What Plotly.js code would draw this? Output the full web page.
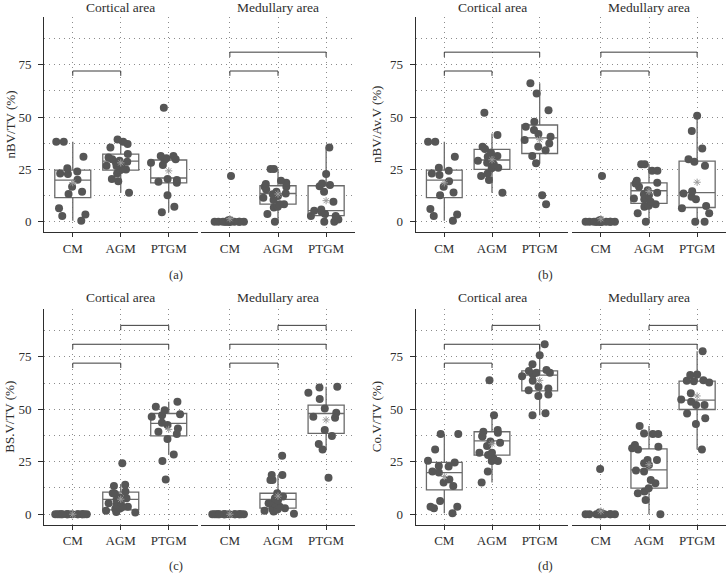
<!DOCTYPE html>
<html>
<head>
<meta charset="utf-8">
<script src="https://cdn.plot.ly/plotly-3.0.1.min.js"></script>
<style>
  body { margin: 0; background: #fff; }
  #chart { width: 726px; height: 585px; }
</style>
</head>
<body>
<div id="chart"></div>
<script>
// groups and facets
const groups = ['CM', 'AGM', 'PTGM'];
const areas = ['Cortical area', 'Medullary area'];
const panelLabels = ['(a)', '(b)', '(c)', '(d)'];
const yTitles = ['nBV/TV (%)', 'nBV/Av.V (%)', 'BS.V/TV (%)', 'Co.V/TV (%)'];
const yTicks = [0, 25, 50, 75];

// significance brackets: pairs of groups and their heights
const comparisons = [[1, 2], [1, 3], [2, 3]];
const bracketHeights = [72, 81, 90];

// (a) nBV/TV
const aCortPts = [
  [38.2, 38.2, 31, 25.5, 23, 24, 22.8, 20, 16.7, 14.3, 13.2, 6.4, 3.5, 2.7, 0.5],
  [39.3, 38.2, 37.1, 35.5, 32.3, 30.7, 29.8, 28.7, 28.2, 26.8, 26.6, 29.1, 25.5, 24.7, 23.1, 25, 20.4, 19.4, 13.9, 27.9],
  [54.5, 31.4, 31.4, 30.3, 29.8, 29.5, 28.2, 27.1, 18.6, 19.1, 19.9, 20.4, 12.7, 7.2, 4.5]
];
const aMedPts = [
  [21.8, 0, 0, 0, 0, 0, 0, 0, 0, 0, 0, 0, 0, 0.3, 0.6, 0.8],
  [25.2, 25.2, 19.6, 18.6, 18, 16.7, 16.7, 15.4, 14.3, 13.5, 13.1, 12.3, 11.5, 10.4, 8.4, 8.4, 6.8, 7.2, 3.7, 0],
  [35.5, 22.8, 17.5, 18.3, 17, 14.3, 9.6, 5.3, 4.8, 5.9, 3.7, 2.7, 2.7, 1.1, 0, 0]
];
// box stats per group: [lower whisker, q1, median, q3, upper whisker]
const aCortBox = [[0.5, 11.5, 19.9, 24.7, 38.2], [13.9, 24.7, 29, 32.3, 39.3], [4.5, 18.6, 20.9, 29.5, 31.4]];
const aMedBox = [[0, 0, 0, 0, 0], [0, 8.4, 13.5, 17.2, 25.2], [0, 2.9, 5.3, 17.2, 35.5]];

// (b) nBV/Av.V
const bCortPts = [
  [38.2, 38.2, 31, 25.8, 24.4, 23.1, 22.3, 19.4, 16.7, 14, 12.7, 6.1, 3.5, 2.7, 0.5],
  [52.1, 41.4, 35.8, 34.7, 33, 31, 31.4, 29.5, 29.1, 28.2, 27.4, 25.8, 25.5, 23.1, 19.9, 21.8, 13.9],
  [66.1, 61.3, 53.3, 47.8, 45.4, 43.8, 41.9, 40.6, 39, 37.4, 34.2, 35.8, 31.4, 27.9, 12.7, 8.4]
];
const bMedPts = [
  [21.8, 0, 0, 0, 0, 0, 0, 0, 0, 0, 0, 0, 0, 0, 0.5, 0.8],
  [27.5, 27.5, 24.4, 24.4, 19.6, 18.3, 18.6, 16.7, 13.1, 13.9, 12.7, 11.1, 10.7, 8.4, 7.6, 7.2, 4, 0, 9.6, 15.1],
  [50.6, 43.3, 35, 29.8, 28.7, 26.8, 14.6, 13.5, 10.8, 11.9, 7.5, 6.4, 4, 0, 0]
];
const bCortBox = [[0.5, 11.5, 19.9, 24.7, 38.2], [13.9, 25, 29.5, 34.6, 42.2], [27.9, 32.6, 40.1, 46.2, 66.1]];
const bMedBox = [[0, 0, 0, 0, 0], [0, 8.8, 14.8, 18.6, 27.5], [0, 6.8, 13.9, 29, 50.6]];

// (c) BS.V/TV
const cCortPts = [
  [0, 0, 0, 0, 0, 0, 0, 0, 0, 0, 0, 0, 0, 0, 0],
  [24.3, 14, 13.5, 10.8, 9.7, 10, 8.1, 6.8, 7.6, 5.7, 3.6, 2.9, 2.5, 1.7, 1, 0.8, 3.6, 4.4, 5.2],
  [53.6, 51.2, 49.6, 47.2, 46.5, 43.6, 42.5, 40.9, 39.3, 38.2, 35.8, 28.5, 25.4, 16.6, 47.6]
];
const cMedPts = [
  [0, 0, 0, 0, 0, 0, 0, 0, 0, 0, 0, 0, 0, 0, 0],
  [27.9, 16.3, 16.3, 18.7, 18.7, 10, 8.4, 7.6, 6.5, 5.2, 3.6, 2.4, 1.7, 1.3, 0.2, 2.4, 2.9, 5.2],
  [60.7, 60.4, 57.9, 54.9, 48.4, 46.5, 46, 50.4, 40.1, 37.3, 33.5, 30.9, 17.4]
];
const cCortBox = [[0, 0, 0, 0, 0], [0.8, 2.1, 7.1, 10.5, 14], [28.5, 37.3, 43.3, 48, 53.6]];
const cMedBox = [[0, 0, 0, 0, 0], [0.2, 2.9, 7.1, 10, 18.7], [30.9, 38.5, 48, 52, 60.7]];

// (d) Co.V/TV
const dCortPts = [
  [38.2, 38.2, 30.9, 25.5, 24.7, 23, 22.7, 20.3, 19.9, 16.6, 15.1, 13.5, 6.3, 3.6, 3.6, 2.9, 0.5],
  [63.9, 47.2, 39.3, 40.1, 38.8, 37.3, 37, 34.6, 32.5, 29.3, 28.2, 26.6, 25.4, 29.3, 25.4, 20.3, 15.1, 34.1],
  [81, 75.8, 71.5, 68.7, 68.2, 67.4, 66.6, 67.4, 65.8, 63.6, 59.9, 60.7, 59.1, 56.3, 57.1, 48.1, 47.2]
];
const dMedPts = [
  [21.6, 0, 0, 0, 0, 0, 0, 0, 0, 0, 0, 0, 0, 0.5, 0.8],
  [42, 38.5, 38.2, 38.2, 33, 32.2, 31.4, 30.9, 25.8, 24.3, 25.8, 23.5, 20.8, 20.3, 16.3, 14.7, 12.4, 10.8, 10, 6.8, 0],
  [77.7, 66.6, 66.3, 63.4, 63.9, 63.6, 62.8, 57.6, 54.7, 53.6, 52, 52, 48, 45.7, 43, 30.9]
];
const dCortBox = [[0.5, 11.6, 19.8, 24.7, 38.2], [15.1, 28.2, 35, 39.3, 47.2], [47.2, 58.8, 66.3, 68.3, 81]];
const dMedBox = [[0, 0, 0, 0, 0], [0, 12.4, 21.1, 31.1, 42], [30.9, 49.9, 54.4, 63.4, 77.7]];

// which comparisons are marked (index into comparisons)
const aSig = [[0], [0, 1]];
const bSig = [[0, 1], [0, 1]];
const cSig = [[0, 1, 2], [0, 1, 2]];
const dSig = [[0, 1, 2], [0, 1, 2]];

const panels = [
  { pts: [aCortPts, aMedPts], box: [aCortBox, aMedBox], sig: aSig },
  { pts: [bCortPts, bMedPts], box: [bCortBox, bMedBox], sig: bSig },
  { pts: [cCortPts, cMedPts], box: [cCortBox, cMedBox], sig: cSig },
  { pts: [dCortPts, dMedPts], box: [dCortBox, dMedBox], sig: dSig }
];

// page geometry in pixels
const W = 726, H = 585;
const colPx = [[[44, 197.5], [201, 355]], [[415.7, 568.3], [572, 726]]];
const rowPx = [[17, 232], [309, 524.5]];
const yTitleX = [10, 376.5];
const labelX = [176, 545];
const labelY = [275, 566];
const stripY = [7.5, 297.5];

const fx = px => px / W;
const fy = py => 1 - py / H;

const font = "'Liberation Serif', 'Times New Roman', serif";
const ink = '#2e2e2e';
const gridStyle = { gridcolor: '#8c8c8c', gridwidth: 1, griddash: '1px,4px' };

const traces = [];
const layout = {
  width: W, height: H,
  margin: { l: 0, r: 0, t: 0, b: 0 },
  paper_bgcolor: '#fff', plot_bgcolor: '#fff',
  showlegend: false,
  boxmode: 'overlay',
  font: { family: font, color: ink },
  annotations: []
};

const mean = arr => arr.reduce((s, v) => s + v, 0) / arr.length;

panels.forEach((panel, p) => {
  const row = Math.floor(p / 2), col = p % 2;
  const yd = [fy(rowPx[row][1]), fy(rowPx[row][0])];

  for (let f = 0; f < 2; f++) {
    const idx = p * 2 + f + 1;
    const xa = 'x' + (idx === 1 ? '' : idx);
    const ya = 'y' + (idx === 1 ? '' : idx);
    const xd = [fx(colPx[col][f][0]), fx(colPx[col][f][1])];
    const stats = panel.box[f];
    const pts = panel.pts[f];

    // boxes
    traces.push({
      type: 'box', xaxis: xa, yaxis: ya,
      x: [1, 2, 3],
      lowerfence: stats.map(s => s[0]),
      q1: stats.map(s => s[1]),
      median: stats.map(s => s[2]),
      q3: stats.map(s => s[3]),
      upperfence: stats.map(s => s[4]),
      width: 0.75, whiskerwidth: 0,
      fillcolor: '#fff',
      line: { color: '#6a6a6a', width: 1.3 },
      boxpoints: false, hoverinfo: 'skip'
    });

    // jittered points (box trace with hidden box)
    const px = [], py = [];
    pts.forEach((vals, g) => vals.forEach(v => { px.push(g + 1); py.push(v); }));
    traces.push({
      type: 'box', xaxis: xa, yaxis: ya,
      x: px, y: py,
      width: 0.75,
      boxpoints: 'all', jitter: 1, pointpos: 0,
      fillcolor: 'rgba(0,0,0,0)',
      line: { width: 0 },
      marker: { color: '#565656', size: 8, line: { width: 0 } },
      hoverinfo: 'skip'
    });

    // group means
    traces.push({
      type: 'scatter', mode: 'markers', xaxis: xa, yaxis: ya,
      x: [1, 2, 3], y: pts.map(mean),
      marker: { symbol: 'asterisk-open', size: 6, color: '#9a9a9a', line: { color: '#9a9a9a', width: 1 } },
      hoverinfo: 'skip'
    });

    // significance brackets
    const bx = [], by = [];
    panel.sig[f].forEach(k => {
      const [g1, g2] = comparisons[k];
      const h = bracketHeights[k];
      bx.push(g1, g1, g2, g2, null);
      by.push(h - 2.3, h, h, h - 2.3, null);
    });
    traces.push({
      type: 'scatter', mode: 'lines', xaxis: xa, yaxis: ya,
      x: bx, y: by,
      line: { color: '#3a3a3a', width: 1 },
      hoverinfo: 'skip'
    });

    layout['xaxis' + (idx === 1 ? '' : idx)] = Object.assign({
      domain: xd, anchor: ya,
      range: [0.4, 3.6],
      tickvals: [1, 2, 3], ticktext: groups,
      showgrid: true, zeroline: false,
      showline: true, linecolor: ink, linewidth: 1,
      ticks: 'outside', ticklen: 4, tickcolor: ink,
      tickfont: { family: font, size: 13, color: ink },
      fixedrange: true
    }, gridStyle);

    layout['yaxis' + (idx === 1 ? '' : idx)] = Object.assign({
      domain: yd, anchor: xa,
      range: [-4.9, 97.8],
      tickvals: yTicks,
      showgrid: true, zeroline: false,
      showline: f === 0, linecolor: ink, linewidth: 1,
      ticks: f === 0 ? 'outside' : '', ticklen: 5, tickcolor: ink,
      ticklabelstandoff: 4,
      showticklabels: f === 0,
      tickfont: { family: font, size: 13, color: ink },
      minor: Object.assign({ tickvals: [12.5, 37.5, 62.5, 87.5], showgrid: true }, gridStyle),
      fixedrange: true
    }, gridStyle);

    // facet strip title
    layout.annotations.push({
      xref: 'paper', yref: 'paper',
      x: (xd[0] + xd[1]) / 2, y: fy(stripY[row]),
      xanchor: 'center', yanchor: 'middle',
      text: areas[f], showarrow: false,
      font: { family: font, size: 13.5, color: ink }
    });
  }

  // y title
  layout.annotations.push({
    xref: 'paper', yref: 'paper',
    x: fx(yTitleX[col]), y: (yd[0] + yd[1]) / 2,
    xanchor: 'center', yanchor: 'middle', textangle: -90,
    text: yTitles[p], showarrow: false,
    font: { family: font, size: 13, color: ink }
  });

  // panel label
  layout.annotations.push({
    xref: 'paper', yref: 'paper',
    x: fx(labelX[col]), y: fy(labelY[row]),
    xanchor: 'center', yanchor: 'middle',
    text: panelLabels[p], showarrow: false,
    font: { family: font, size: 12.5, color: ink }
  });
});

Plotly.newPlot('chart', traces, layout, { displayModeBar: false, staticPlot: true });
</script>
</body>
</html>
